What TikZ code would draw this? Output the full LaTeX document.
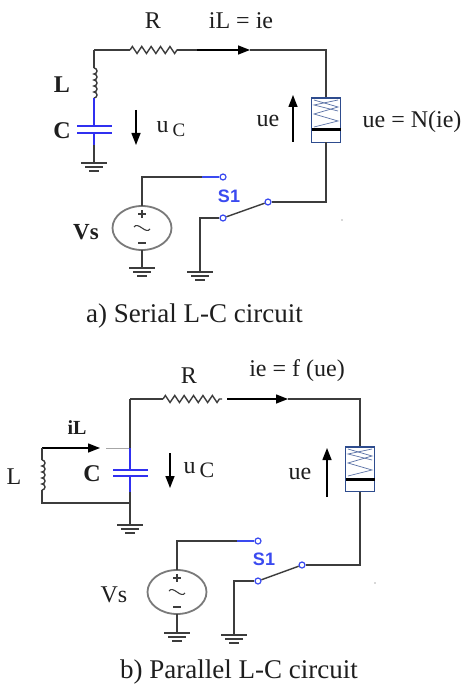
\documentclass[tikz,border=0pt]{standalone}
\usepackage{fontspec}
\setmainfont{Liberation Serif}
\newfontfamily\swfont{Liberation Sans}
\usetikzlibrary{arrows.meta,decorations.pathmorphing}
\definecolor{wirec}{HTML}{3C3C3C}
\definecolor{capb}{HTML}{3030F0}
\definecolor{swb}{HTML}{3A4AF0}
\definecolor{nel}{HTML}{2E4C8E}
\definecolor{txt}{HTML}{1E1E1E}
\definecolor{srcg}{HTML}{7A7A7A}
\begin{document}
\begin{tikzpicture}[x=1pt,y=-1pt,
  wire/.style={draw=wirec, line width=1.4pt},
  capw/.style={draw=capb, line width=1.4pt},
  plate/.style={draw=capb, line width=2pt},
  lbl/.style={font=\fontsize{24}{26}\selectfont, text=txt, inner sep=0pt},
  caption/.style={font=\fontsize{27}{29}\selectfont, text=txt, inner sep=0pt},
  swlbl/.style={font=\swfont\bfseries\fontsize{18}{19}\selectfont, text=swb, inner sep=0pt},
  contact/.style={circle, draw=swb, fill=white, line width=1.2pt, minimum size=6pt, inner sep=0pt},
  arr/.style={-{Triangle[length=12pt,width=9pt]}, draw=black, line width=1.4pt},
  resist/.style={wire, decorate, decoration={zigzag, segment length=9.4pt, amplitude=3.5pt}},
  gndsym/.pic={
    \draw[draw=wirec, line width=1.5pt] (-13,0) -- (13,0);
    \draw[draw=wirec, line width=1.5pt] (-9,4) -- (9,4);
    \draw[draw=wirec, line width=1.5pt] (-5,8) -- (5,8);
  },
  nelem/.pic={
    \draw[draw=nel, line width=1.6pt] (-14.5,0) rectangle (14.5,44.5);
    \draw[draw=nel!80, line width=0.7pt] (-12,2) -- (12,9) -- (-12,16) -- (12,23) -- (-12,29);
    \draw[draw=nel!80, line width=0.7pt] (12,2) -- (-12,7) -- (12,13);
    \draw[draw=black, line width=3pt] (-14.5,32) -- (14.5,32);
  },
  source/.pic={
    \draw[draw=srcg, line width=1.8pt] (0,0) ellipse [x radius=29.5, y radius=22];
    \draw[draw=wirec, line width=1.4pt] (-4,-14) -- (4,-14) (0,-18) -- (0,-10);
    \draw[draw=wirec, line width=1.6pt] (-4,15) -- (4,15);
    \draw[draw=wirec, line width=1.1pt] (-8,-1) .. controls (-4,-7) and (4,7) .. (8,1);
  }
]
\fill[white] (0,0) rectangle (471,687);
\useasboundingbox (0,0) rectangle (471,687);

% ================= (a) Serial L-C circuit =================
\coordinate (aTL) at (94,50);
\coordinate (aRs) at (130,50);
\coordinate (aRe) at (177,50);
\coordinate (aArr) at (250,50);
\coordinate (aTR) at (326,50);
\coordinate (aL1) at (94,68);
\coordinate (aL2) at (94,98);
\coordinate (aP1) at (94,126);
\coordinate (aP2) at (94,133);
\coordinate (aCb) at (94,145);
\coordinate (aG1) at (94,163);
\coordinate (aNt) at (326,98);
\coordinate (aNb) at (326,142.5);
\coordinate (aVc) at (142,228);
\coordinate (aVt) at (142,206);
\coordinate (aVb) at (142,250);
\coordinate (aG2) at (142,268);
\coordinate (aW1) at (142,177);
\coordinate (aW2) at (202,177);
\coordinate (aW3) at (200,218);
\coordinate (aG3) at (200,272);
\coordinate (aW4) at (326,202);

\draw[wire] (aTL) -- (aRs);
\draw[resist] (aRs) -- (aRe);
\draw[wire] (aRe) -- (197,50);
\draw[wire, arr] (197,50) -- (aArr);
\draw[wire] (aArr) -- (aTR) -- (aNt);
\draw[wire] (aTL) -- (aL1);
\draw[wire] (aL1) \foreach \k in {1,...,5}{ arc[start angle=-90, end angle=90, radius=3] };
\draw[capw] (aL2) -- (aP1);
\draw[plate] (77,126) -- (112,126);
\draw[plate] (77,133) -- (112,133);
\draw[capw] (aP2) -- (aCb);
\draw[wire] (aCb) -- (aG1);
\pic at (aG1) {gndsym};
\pic at (aNt) {nelem};

\pic at (aVc) {source};
\draw[wire] (aVt) -- (aW1) -- (aW2);
\node[contact] (aSt) at (223,177) {};
\node[contact] (aSl) at (223,218) {};
\node[contact] (aSr) at (268,202) {};
\draw[capw, draw=swb] (aW2) -- (aSt);
\draw[wire] (aSl) -- (aSr);
\draw[wire] (aSl) -- (aW3) -- (aG3);
\pic at (aG3) {gndsym};
\draw[wire] (aSr) -- (aW4) -- (aNb);
\draw[wire] (aVb) -- (aG2);
\pic at (aG2) {gndsym};
\fill[gray!60] (342,220) circle (0.8);

\coordinate (aU1) at (136,110);
\coordinate (aU2) at (136,145);
\draw[arr] (aU1) -- (aU2);
\coordinate (aE1) at (293,142);
\coordinate (aE2) at (293,95);
\draw[arr] (aE1) -- (aE2);

\node[lbl] (aRl) at (153,21) {R};
\node[lbl] (aIl) at (241,21) {iL = ie};
\node[lbl, font=\bfseries\fontsize{24}{26}\selectfont] (aLl) at (62,85) {L};
\node[lbl, font=\bfseries\fontsize{24}{26}\selectfont] (aCl) at (62,131) {C};
\node[lbl] (aUc) at (171,129) {u\,\raisebox{-0.2em}{\fontsize{19}{19}\selectfont C}};
\node[lbl] (aUe) at (268,121) {ue};
\node[lbl] (aUn) at (412,122) {ue = N(ie)};
\node[swlbl] (aS1) at (229,196) {S1};
\node[lbl, font=\bfseries\fontsize{23}{25}\selectfont] (aVs) at (86,232) {Vs};
\node[caption, anchor=base east] (capa) at (303,322) {a) Serial L-C circuit};

% ================= (b) Parallel L-C circuit =================
\coordinate (bTL) at (130,399);
\coordinate (bRs) at (163,399);
\coordinate (bRe) at (222,399);
\coordinate (bRg) at (227,399);
\coordinate (bArr) at (288,399);
\coordinate (bTR) at (360,399);
\coordinate (bJ) at (130,448);
\coordinate (bLc) at (42,448);
\coordinate (bL1) at (42,460);
\coordinate (bL2) at (42,490);
\coordinate (bLb) at (42,503);
\coordinate (bJb) at (130,503);
\coordinate (bIa) at (100,448);
\coordinate (bIg) at (106,448);
\coordinate (bP1) at (130,470);
\coordinate (bP2) at (130,476);
\coordinate (bCb) at (130,492);
\coordinate (bG1) at (130,525);
\coordinate (bNt) at (360,447);
\coordinate (bNb) at (360,491.5);
\coordinate (bVc) at (177,592);
\coordinate (bVt) at (177,570);
\coordinate (bVb) at (177,614);
\coordinate (bG2) at (177,633);
\coordinate (bW1) at (177,541);
\coordinate (bW2) at (237,541);
\coordinate (bW3) at (234,581);
\coordinate (bG3) at (234,635);
\coordinate (bW4) at (360,565);

\draw[wire] (bTL) -- (bRs);
\draw[resist] (bRs) -- (bRe);
\draw[wire, arr] (bRg) -- (bArr);
\draw[wire] (bArr) -- (bTR) -- (bNt);
\draw[wire] (bTL) -- (bJ);
\draw[wire, arr] (bLc) -- (bIa);
\draw[draw=gray!70, line width=1pt] (bIg) -- (bJ);
\draw[wire] (bLc) -- (bL1);
\draw[wire] (bL1) \foreach \k in {1,...,5}{ arc[start angle=-90, end angle=90, radius=3] };
\draw[wire] (bL2) -- (bLb) -- (bJb);
\draw[capw] (bJ) -- (bP1);
\draw[plate] (113,470) -- (148,470);
\draw[plate] (113,476) -- (148,476);
\draw[capw] (bP2) -- (bCb);
\draw[wire] (bCb) -- (bJb) -- (bG1);
\pic at (bG1) {gndsym};
\pic at (bNt) {nelem};

\pic at (bVc) {source};
\draw[wire] (bVt) -- (bW1) -- (bW2);
\node[contact] (bSt) at (258,541) {};
\node[contact] (bSl) at (258,581) {};
\node[contact] (bSr) at (302,565) {};
\draw[capw, draw=swb] (bW2) -- (bSt);
\draw[wire] (bSl) -- (bSr);
\draw[wire] (bSl) -- (bW3) -- (bG3);
\pic at (bG3) {gndsym};
\draw[wire] (bSr) -- (bW4) -- (bNb);
\draw[wire] (bVb) -- (bG2);
\pic at (bG2) {gndsym};
\fill[gray!60] (375,583) circle (0.8);

\coordinate (bU1) at (170,453);
\coordinate (bU2) at (170,488);
\draw[arr] (bU1) -- (bU2);
\coordinate (bE1) at (327,497);
\coordinate (bE2) at (327,448);
\draw[arr] (bE1) -- (bE2);

\node[lbl] (bRl) at (189,376) {R};
\node[lbl] (bIe) at (297,371) {ie = f (ue)};
\node[lbl, font=\bfseries\fontsize{20}{22}\selectfont] (bIl) at (77,428) {iL};
\node[lbl] (bLl) at (14,477) {L};
\node[lbl, font=\bfseries\fontsize{24}{26}\selectfont] (bCl) at (92,474) {C};
\node[lbl] (bUc) at (199,470) {u\,\raisebox{-0.2em}{\fontsize{22}{22}\selectfont C}};
\node[lbl] (bUe) at (300,474) {ue};
\node[swlbl] (bS1) at (264,559) {S1};
\node[lbl] (bVs) at (114,595) {Vs};
\node[caption, anchor=base east] (capb) at (358,678) {b) Parallel L-C circuit};
\end{tikzpicture}
\end{document}
